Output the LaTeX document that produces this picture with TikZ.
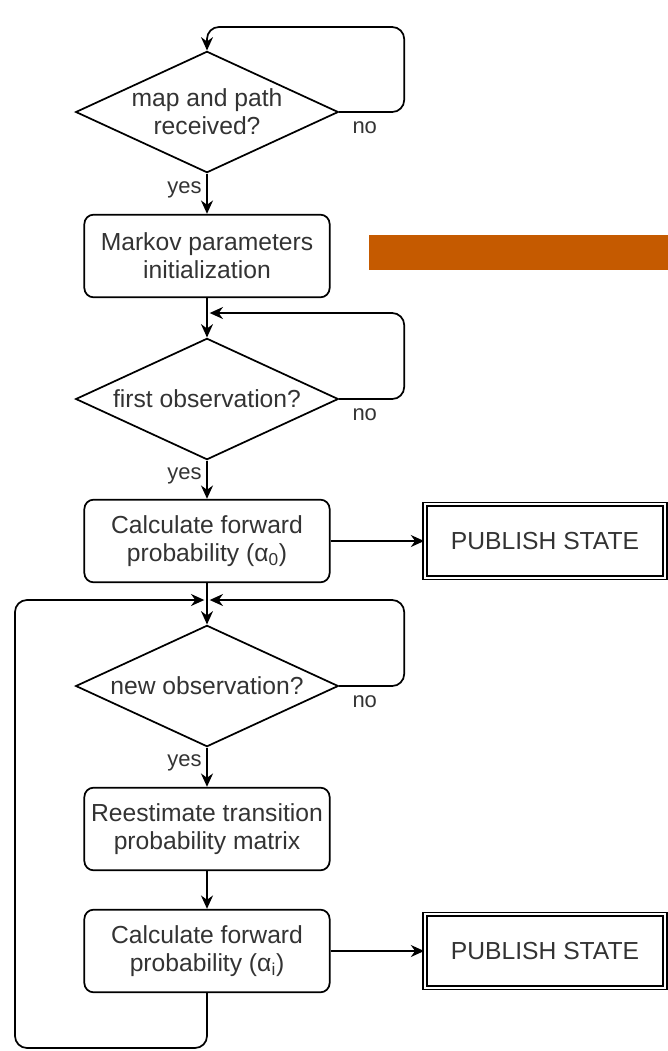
\documentclass[tikz,border=0pt]{standalone}
\usepackage{fontspec}
\setmainfont{Liberation Sans}
\usepackage{tikz}
\usetikzlibrary{positioning,arrows.meta,shapes.geometric}

\definecolor{txtgray}{HTML}{333333}
\definecolor{barorange}{HTML}{C55A00}

\begin{document}
\begin{tikzpicture}[x=0.75pt,y=-0.75pt,line width=1.3pt,
  every node/.style={font=\fontsize{18.5}{21}\selectfont,text=txtgray},
  stepbox/.style={draw,rounded corners=7pt,align=center,minimum width=184pt,minimum height=62pt,inner sep=1pt},
  decide/.style={draw,diamond,aspect=2.17,align=center,minimum width=197pt,minimum height=91pt,inner sep=0pt},
  pubbox/.style={draw,double,double distance=1.6pt,minimum width=180pt,minimum height=55pt},
  lbl/.style={font=\fontsize{16.5}{19}\selectfont},
  flow/.style={-{Stealth[length=10pt,width=9pt]}},
  loop/.style={rounded corners=9pt}]
\useasboundingbox (0,0) rectangle (668,1051);

% main column
\node[decide] (recv) at (207,112) {map and path\\received?};
\node[stepbox] (init) at (207,256) {Markov parameters\\initialization};
\node[decide] (firstobs) at (207,399) {first observation?};
\node[stepbox] (fwd0) at (207,541) {Calculate forward\\probability (α\textsubscript{0})};
\node[decide] (newobs) at (207,686) {new observation?};
\node[stepbox] (reest) at (207,829) {Reestimate transition\\probability matrix};
\node[stepbox] (fwdi) at (207,951) {Calculate forward\\probability (α\textsubscript{i})};

% outputs
\node[pubbox] (pub0) at (545,541) {PUBLISH STATE};
\node[pubbox] (pubi) at (545,951) {PUBLISH STATE};
\fill[barorange] (369,235) rectangle (668,270);

% merge points
\coordinate (top0) at (207,27);
\coordinate (m1) at (207,313);
\coordinate (m2) at (207,600);
\coordinate (low) at (207,1048);

% yes branches
\draw[flow] (recv.south) -- node[lbl,left,pos=0.4]{yes} (init.north);
\draw[flow] (init.south) -- (firstobs.north);
\draw[flow] (firstobs.south) -- node[lbl,left,pos=0.4]{yes} (fwd0.north);
\draw[flow] (fwd0.south) -- (newobs.north);
\draw[flow] (newobs.south) -- node[lbl,left,pos=0.4]{yes} (reest.north);
\draw[flow] (reest.south) -- (fwdi.north);
\draw[flow] (fwd0.east) -- (pub0.west);
\draw[flow] (fwdi.east) -- (pubi.west);

% no loops
\draw[flow,loop] (recv.east) -- node[lbl,below right=3pt and 6pt,pos=0]{no} ++(65,0) |- (top0) -- (recv.north);
\draw[flow,loop] (firstobs.east) -- node[lbl,below right=3pt and 6pt,pos=0]{no} ++(65,0) |- ([xshift=2pt]m1);
\draw[flow,loop] (newobs.east) -- node[lbl,below right=3pt and 6pt,pos=0]{no} ++(65,0) |- ([xshift=2pt]m2);

% back to new observation
\draw[flow,loop] (fwdi.south) -- (low) -| (15,600) -- ([xshift=-2pt]m2);
\end{tikzpicture}
\end{document}
